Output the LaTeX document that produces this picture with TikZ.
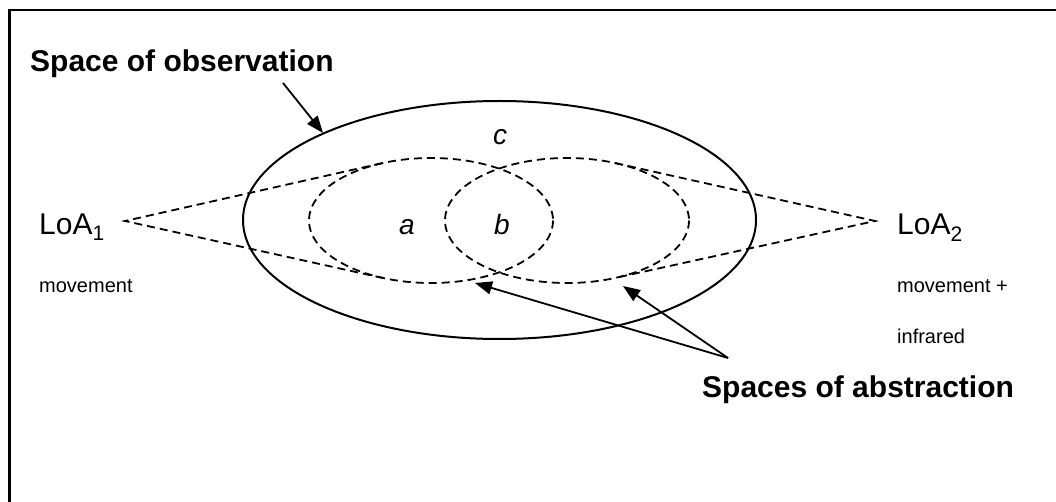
\documentclass[tikz,border=0pt]{standalone}
\usepackage{fontspec}
\setmainfont{Liberation Sans}
\usetikzlibrary{arrows.meta}
\begin{document}
\begin{tikzpicture}[x=1pt,y=-1pt,
  frameline/.style={line width=2.2pt},
  solidell/.style={line width=2pt},
  dashell/.style={line width=1.8pt, dash pattern=on 8pt off 5pt},
  arr/.style={line width=1.8pt, -{Triangle[length=17pt,width=13pt]}},
  big/.style={font=\fontsize{30}{36}\selectfont\bfseries, anchor=base west, inner sep=0pt},
  loa/.style={font=\fontsize{30}{36}\selectfont, anchor=base west, inner sep=0pt},
  small/.style={font=\fontsize{20}{24}\selectfont, anchor=base west, inner sep=0pt},
  lett/.style={font=\fontsize{28}{34}\selectfont\itshape, anchor=base, inner sep=0pt}]
\useasboundingbox (0,0) rectangle (1056,502);
% frame
\draw[frameline] (9.5,503) -- (9.5,10) -- (1057,10);
% centers
\coordinate (obsc) at (499.5,220);
\coordinate (ac) at (431,220.5);
\coordinate (bc) at (567,220.5);
% ellipses
\draw[solidell] (obsc) ellipse [x radius=256.5, y radius=119];
\draw[dashell] (ac) ellipse [x radius=122, y radius=62.5];
\draw[dashell] (bc) ellipse [x radius=122, y radius=62.5];
% LoA cones
\coordinate (t1) at (125,221);
\coordinate (t1u) at (382,163.2);
\coordinate (t1d) at (382,277.8);
\coordinate (t2) at (875,221);
\coordinate (t2u) at (615.3,163.1);
\coordinate (t2d) at (615.3,277.9);
\draw[dashell] (t1u) -- (t1) -- (t1d);
\draw[dashell] (t2u) -- (t2) -- (t2d);
% labels
\node[big] (obs) at (30,72) {Space of observation};
\node[big] (abs) at (702,397) {Spaces of abstraction};
\node[loa] (loa1) at (39,235) {LoA\textsubscript{1}};
\node[loa] (loa2) at (897,235) {LoA\textsubscript{2}};
\node[small] (mov1) at (39,292) {movement};
\node[small] (mov2) at (897,292) {movement +};
\node[small] (infr) at (897,343) {infrared};
\node[lett] (la) at (407,235) {a};
\node[lett] (lb) at (502,235) {b};
\node[lett] (lc) at (500,145) {c};
% arrows
\coordinate (os) at (283,83);
\coordinate (oe) at (323,133);
\draw[arr] (os) -- (oe);
\coordinate (as) at (728,358);
\coordinate (ae1) at (475,283);
\coordinate (ae2) at (623,286);
\draw[arr] (as) -- (ae1);
\draw[arr] (as) -- (ae2);
\end{tikzpicture}
\end{document}
